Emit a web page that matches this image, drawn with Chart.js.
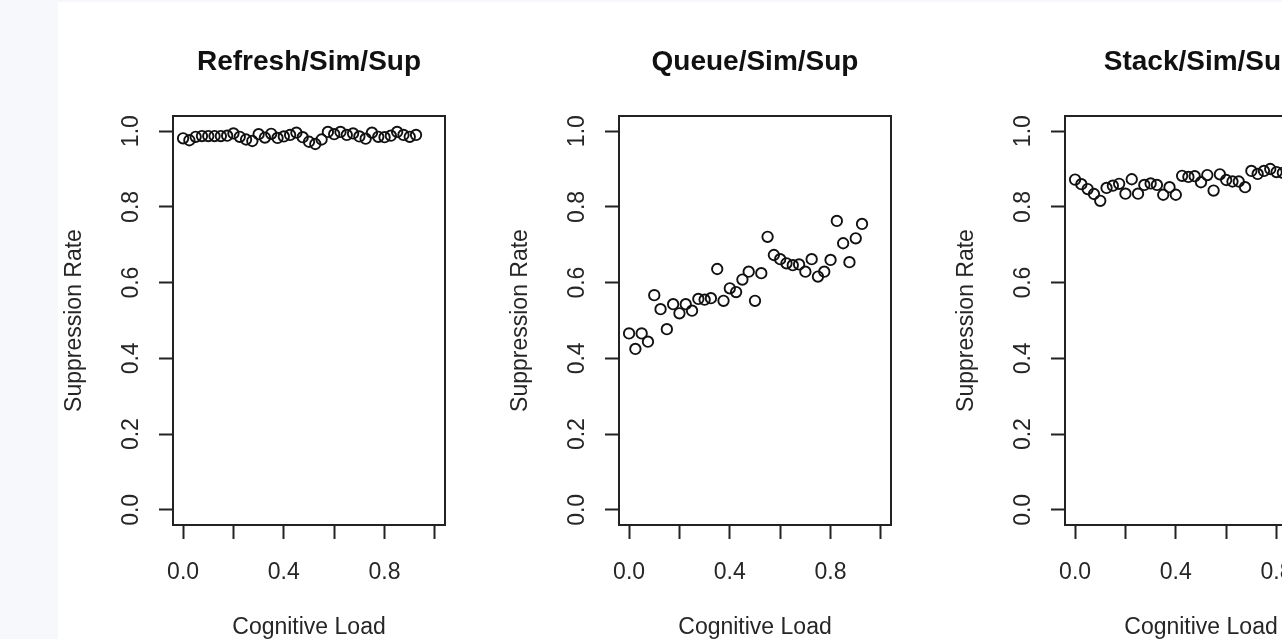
<!DOCTYPE html>
<html>
<head>
<meta charset="utf-8">
<script src="https://cdn.jsdelivr.net/npm/chart.js@4.4.1/dist/chart.umd.min.js"></script>
<style>
  html, body { margin: 0; padding: 0; width: 1282px; height: 639px; overflow: hidden; background: #f7f8fb; }
  #sheet { position: absolute; left: 58px; top: 2px; width: 1224px; height: 637px; background: #fff; overflow: hidden; }
  canvas { position: absolute; top: 0; }
</style>
</head>
<body>
<div id="sheet">
  <canvas id="c0" width="446" height="665" style="left:0px"></canvas>
  <canvas id="c1" width="446" height="665" style="left:446px"></canvas>
  <canvas id="c2" width="446" height="665" style="left:892px"></canvas>
</div>
<script>
// cognitive load levels (x)
const loadValues = [0, 0.025, 0.05, 0.075, 0.1, 0.125, 0.15, 0.175, 0.2, 0.225,
  0.25, 0.275, 0.3, 0.325, 0.35, 0.375, 0.4, 0.425, 0.45, 0.475,
  0.5, 0.525, 0.55, 0.575, 0.6, 0.625, 0.65, 0.675, 0.7, 0.725,
  0.75, 0.775, 0.8, 0.825, 0.85, 0.875, 0.9, 0.925]

const refreshRates = [0.981, 0.976, 0.985, 0.987, 0.987, 0.987, 0.987, 0.988, 0.994, 0.985,
  0.978, 0.974, 0.992, 0.983, 0.993, 0.982, 0.986, 0.990, 0.996, 0.984,
  0.972, 0.966, 0.978, 0.998, 0.992, 0.998, 0.990, 0.994, 0.986, 0.980,
  0.996, 0.985, 0.984, 0.988, 0.998, 0.990, 0.985, 0.990]

const queueRates = [0.466, 0.425, 0.466, 0.444, 0.567, 0.530, 0.477, 0.543, 0.519, 0.543,
  0.526, 0.557, 0.555, 0.559, 0.636, 0.552, 0.585, 0.575, 0.608, 0.629,
  0.552, 0.625, 0.721, 0.673, 0.662, 0.651, 0.646, 0.648, 0.629, 0.662,
  0.616, 0.629, 0.660, 0.763, 0.704, 0.654, 0.717, 0.755]

// only the visible part of the third panel
const stackRates = [0.872, 0.860, 0.847, 0.834, 0.816, 0.850, 0.856, 0.861, 0.835, 0.873,
  0.835, 0.858, 0.862, 0.858, 0.832, 0.852, 0.832, 0.882, 0.879, 0.881,
  0.865, 0.884, 0.843, 0.886, 0.871, 0.867, 0.867, 0.852, 0.895, 0.887,
  0.895, 0.900, 0.892, 0.890]

const panelTitles = ['Refresh/Sim/Sup', 'Queue/Sim/Sup', 'Stack/Sim/Sup']
const xTicks = [0, 0.2, 0.4, 0.6, 0.8, 1.0]
const xTickLabels = [0, 0.4, 0.8]
const yTicks = [0, 0.2, 0.4, 0.6, 0.8, 1.0]

Chart.defaults.font.family = "'Liberation Sans', Arial, Helvetica, sans-serif"
Chart.defaults.font.size = 23
Chart.defaults.color = '#262626'

const boxPlugin = {
  id: 'box',
  beforeDatasetsDraw(chart) {
    const { ctx, chartArea: a } = chart
    ctx.save()
    ctx.strokeStyle = '#222'
    ctx.lineWidth = 2
    ctx.strokeRect(a.left, a.top, a.right - a.left, a.bottom - a.top)
    ctx.restore()
  }
}

function drawPanel(id, title, rates) {
  const points = rates.map((r, i) => ({ x: loadValues[i], y: r }))
  return new Chart(document.getElementById(id), {
    type: 'scatter',
    data: {
      datasets: [{
        data: points,
        pointStyle: 'circle',
        pointRadius: 5.2,
        pointHoverRadius: 5.2,
        pointBorderWidth: 1.9,
        borderColor: '#111',
        backgroundColor: 'rgba(0,0,0,0)'
      }]
    },
    options: {
      responsive: false,
      animation: false,
      events: [],
      layout: { padding: { left: 0, right: 59, top: 0, bottom: 0 } },
      plugins: {
        legend: { display: false },
        tooltip: { enabled: false },
        title: {
          display: true,
          text: title,
          fullSize: false,
          color: '#111',
          font: { size: 28, weight: 'bold' },
          padding: { top: 43.2, bottom: 37.2 }
        }
      },
      scales: {
        x: {
          type: 'linear',
          min: -0.04,
          max: 1.04,
          afterBuildTicks: s => { s.ticks = xTicks.map(v => ({ value: v })) },
          afterFit: s => { s.height = 142 },
          grid: { drawOnChartArea: false, tickLength: 14, tickWidth: 2, tickColor: '#222' },
          border: { display: false },
          ticks: {
            autoSkip: false,
            maxRotation: 0,
            padding: 19.5,
            callback: v => xTickLabels.includes(v) ? v.toFixed(1) : ''
          },
          title: { display: true, text: 'Cognitive Load', padding: { top: 0, bottom: 25.7 } }
        },
        y: {
          type: 'linear',
          min: -0.04,
          max: 1.04,
          afterBuildTicks: s => { s.ticks = yTicks.map(v => ({ value: v })) },
          afterFit: s => { s.width = 115 },
          grid: { drawOnChartArea: false, tickLength: 14, tickWidth: 2, tickColor: '#222' },
          border: { display: false },
          ticks: {
            autoSkip: false,
            minRotation: 90,
            maxRotation: 90,
            crossAlign: 'center',
            padding: 11,
            callback: v => v.toFixed(1)
          },
          title: { display: true, text: 'Suppression Rate', padding: { top: 3.2, bottom: 0 } }
        }
      }
    },
    plugins: [boxPlugin]
  })
}

drawPanel('c0', panelTitles[0], refreshRates)
drawPanel('c1', panelTitles[1], queueRates)
drawPanel('c2', panelTitles[2], stackRates)
</script>
</body>
</html>
